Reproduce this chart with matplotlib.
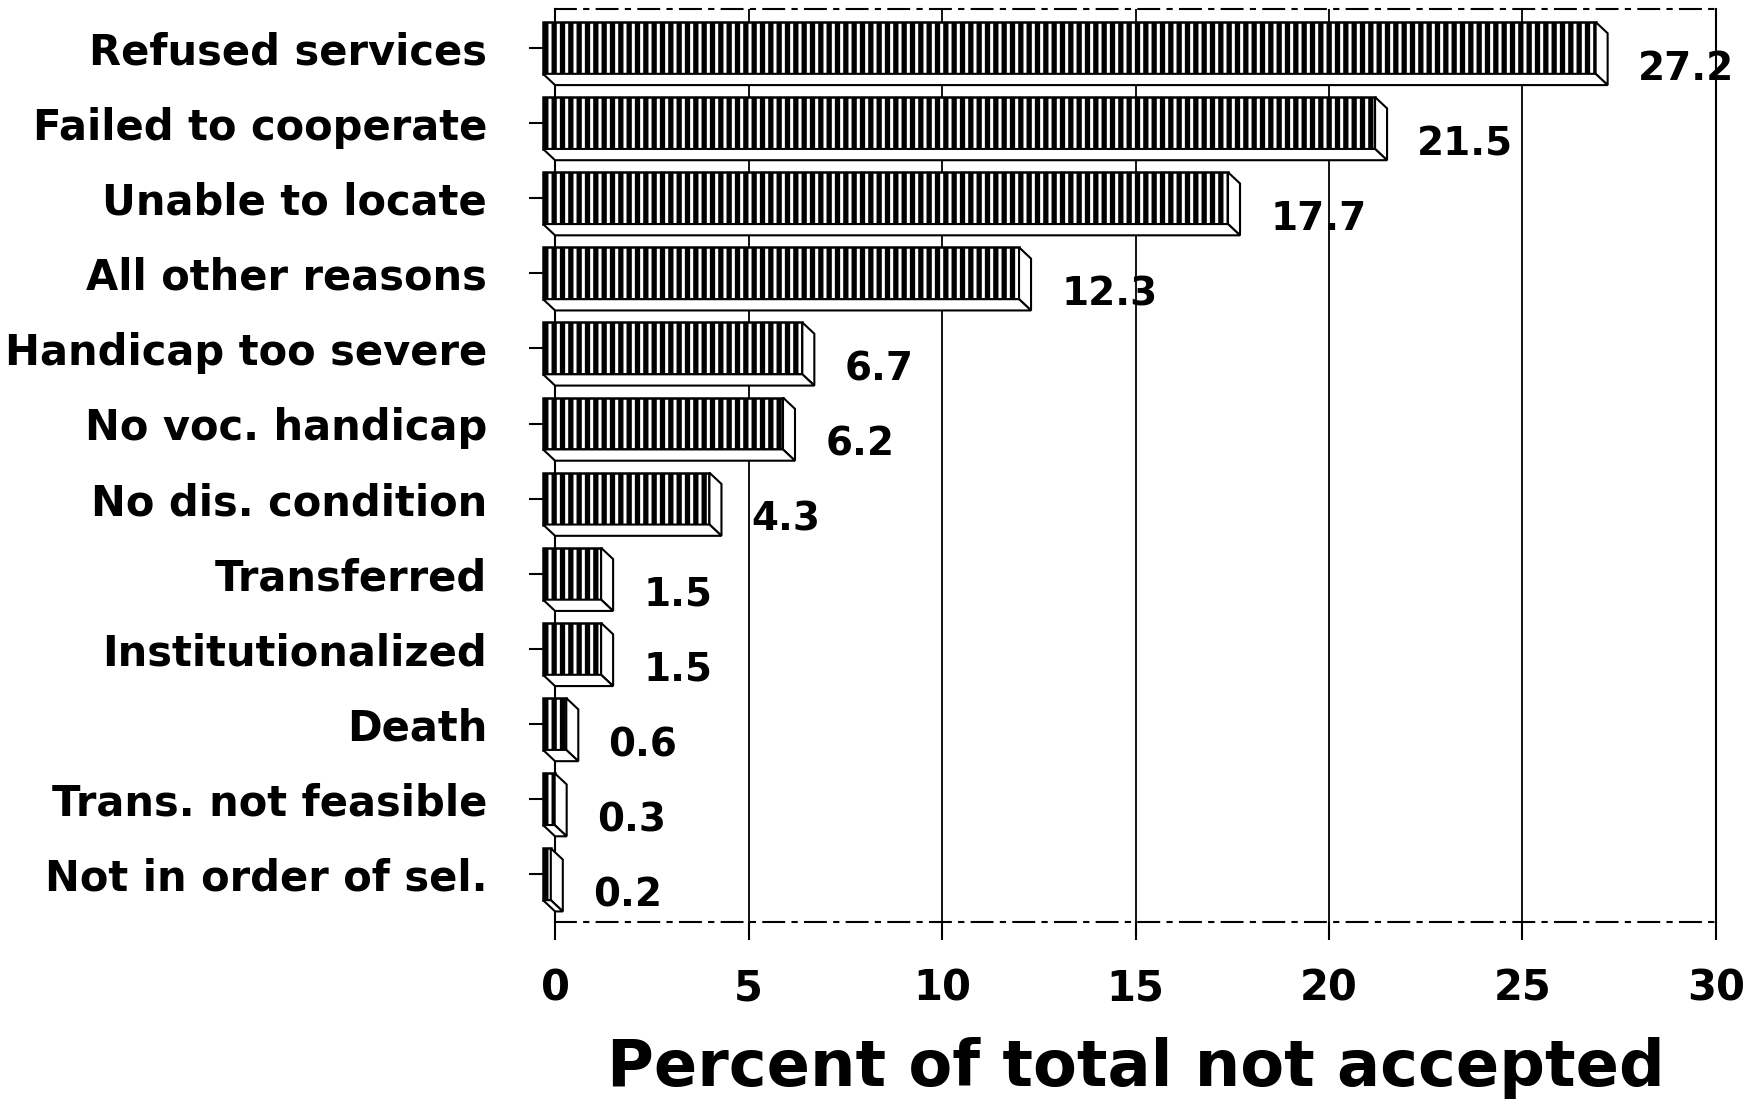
import matplotlib.pyplot as plt
from matplotlib.patches import Polygon

# reasons for not being accepted, top to bottom
reasons = ["Refused services", "Failed to cooperate", "Unable to locate",
           "All other reasons", "Handicap too severe", "No voc. handicap",
           "No dis. condition", "Transferred", "Institutionalized", "Death",
           "Trans. not feasible", "Not in order of sel."]
percent = [27.2, 21.5, 17.7, 12.3, 6.7, 6.2, 4.3, 1.5, 1.5, 0.6, 0.3, 0.2]
xticks = [0, 5, 10, 15, 20, 25, 30]

plt.rcParams['font.family'] = ['DejaVu Sans']
plt.rcParams['hatch.linewidth'] = 3.8

fig = plt.figure(figsize=(17.51, 11.05), dpi=100)
ax = fig.add_axes([0.317, 0.166, 0.663, 0.826])

ypos = list(range(len(reasons)))
h = 0.69      # bar height
dx = 0.31     # depth offset (x)
dy = 0.15     # depth offset (y, downwards)

bars = ax.barh(ypos, percent, left=-dx, height=h, color="white",
               edgecolor="black", hatch="||", linewidth=1.8, zorder=3)
for b in bars:
    b.set_clip_on(False)

for y, v in zip(ypos, percent):
    top, bot = y - h / 2, y + h / 2
    side = Polygon([(v - dx, top), (v, top + dy), (v, bot + dy), (v - dx, bot)],
                   closed=True, facecolor="white", edgecolor="black",
                   lw=1.5, zorder=3, clip_on=False)
    under = Polygon([(-dx, bot), (v - dx, bot), (v, bot + dy), (0, bot + dy)],
                    closed=True, facecolor="white", edgecolor="black",
                    lw=1.5, zorder=3, clip_on=False)
    ax.add_patch(side)
    ax.add_patch(under)
    ax.text(v + 0.78, y + 0.28, f"{v}", ha="left", va="center",
            fontsize=28, fontweight="bold", zorder=4)

ax.set_xlim(0, 30)
ax.set_ylim(11.63, -0.52)
ax.set_xticks(xticks)
ax.set_xticklabels([str(t) for t in xticks], fontsize=30, fontweight="bold")
ax.set_yticks(ypos)
ax.set_yticklabels(reasons, fontsize=30, fontweight="bold")
ax.tick_params(axis="y", length=19, width=1.5, pad=30)
ax.tick_params(axis="x", length=13, width=1.5, pad=20)

ax.set_axisbelow(True)
ax.xaxis.grid(True, color="black", lw=1.3)
for s in ["left", "right"]:
    ax.spines[s].set_linewidth(1.5)
for s in ["top", "bottom"]:
    ax.spines[s].set_linewidth(1.5)
    ax.spines[s].set_linestyle((0, (10, 4, 2, 4)))

ax.set_xlabel("Percent of total not accepted", fontsize=46,
              fontweight="bold", labelpad=20)

fig.savefig("out.png", dpi=100)
